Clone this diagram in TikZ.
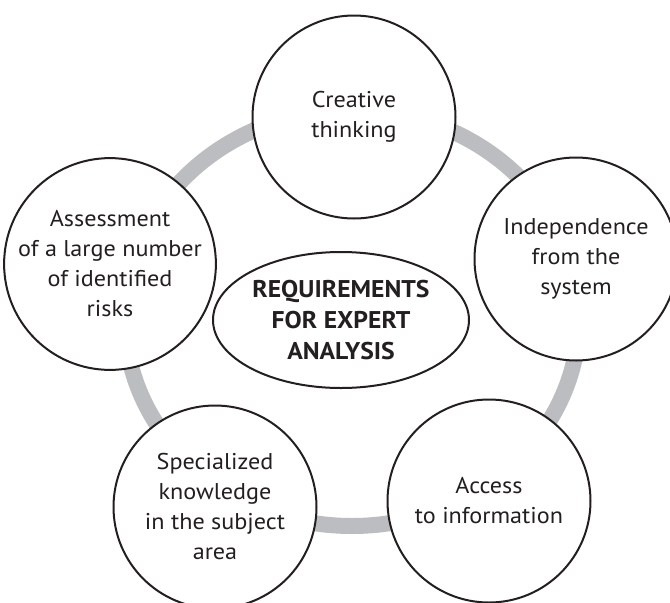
\documentclass[tikz,border=0pt]{standalone}
\usepackage{fontspec}
\setmainfont{PT Sans}[FakeStretch=1.06]
\usetikzlibrary{shapes.geometric}
\definecolor{ink}{RGB}{35,31,32}
\definecolor{ringgray}{RGB}{188,189,192}
\begin{document}
\begin{tikzpicture}[x=1pt,y=-1pt,
  bubble/.style={circle, draw=ink, line width=2pt, fill=white, minimum size=203pt, inner sep=0pt, align=center, font=\fontsize{22.8}{30}\selectfont, text=ink},
  core/.style={ellipse, draw=ink, line width=2pt, fill=white, minimum width=256pt, minimum height=136pt, inner sep=0pt, align=center, font=\fontsize{24.2}{31}\selectfont\bfseries, text=ink}]
\clip (0,0) rectangle (670,603);
\fill[white] (0,0) rectangle (670,603);
\draw[ringgray, line width=16pt] (352,318) ellipse [x radius=227pt, y radius=208pt];
\node[bubble] (creative) at (354,117) {Creative\\thinking};
\node[bubble] (independence) at (576,259) {Independence\\from the\\system};
\node[bubble] (access) at (489,501) {Access\\to information};
\node[bubble] (special) at (215,507) {Specialized\\knowledge\\in the subject\\area};
\node[bubble] (assess) at (110,264) {Assessment\\of a large number\\of identified\\risks};
\node[core] (req) at (341,320) {REQUIREMENTS\\FOR EXPERT\\ANALYSIS};
\end{tikzpicture}
\end{document}
